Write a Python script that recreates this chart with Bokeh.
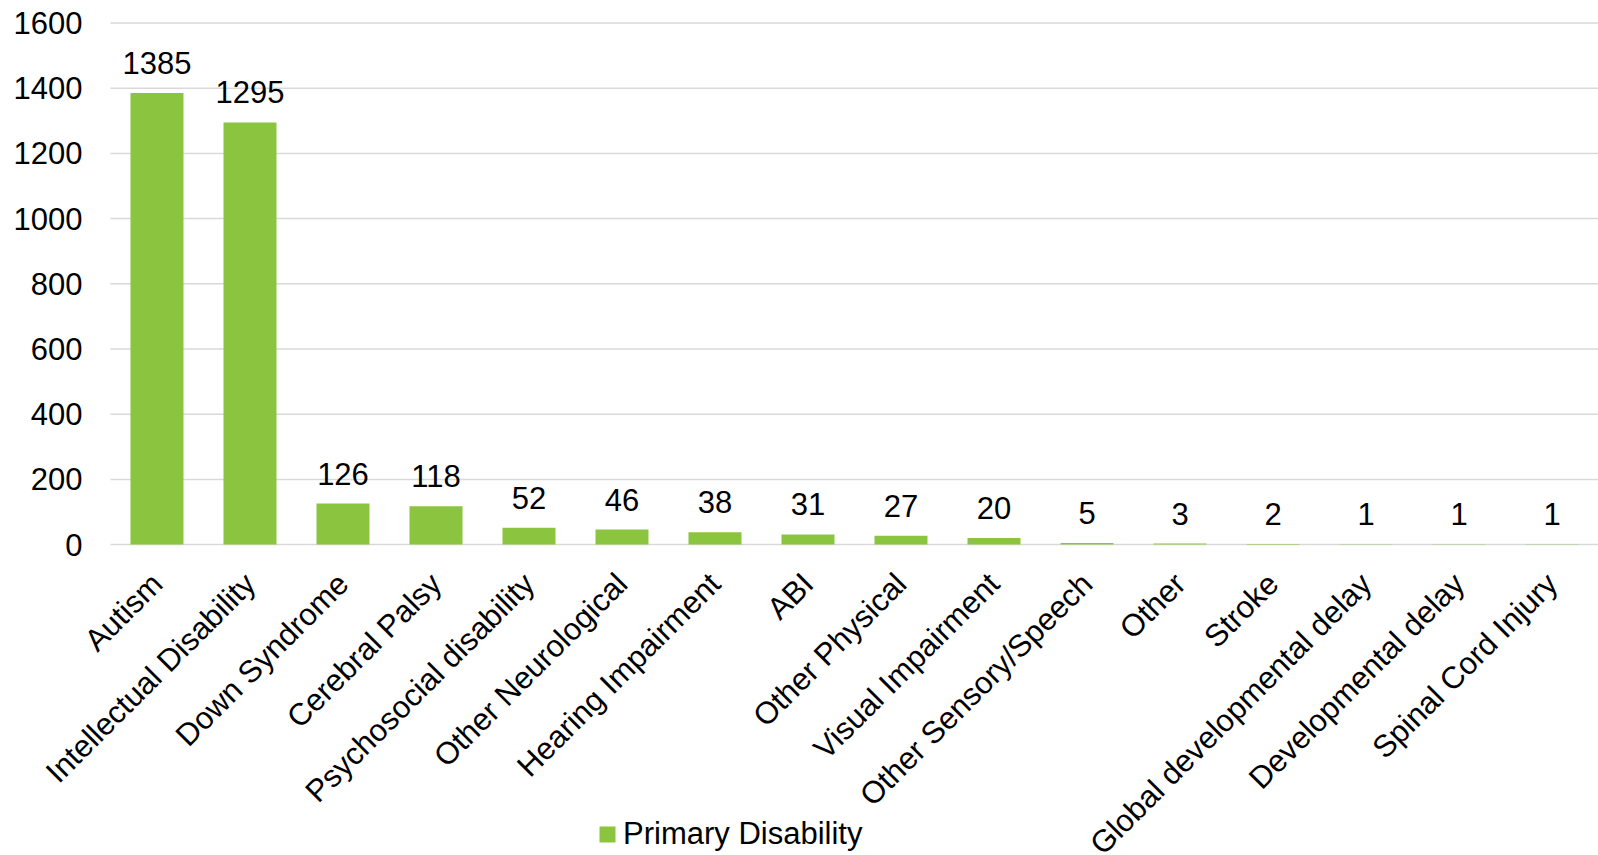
from math import pi
from bokeh.plotting import figure
from bokeh.models import ColumnDataSource, Range1d, LabelSet, Legend, LegendItem
from bokeh.core.properties import value
from bokeh.embed import file_html
from bokeh.resources import INLINE

categories = ["Autism", "Intellectual Disability", "Down Syndrome", "Cerebral Palsy",
              "Psychosocial disability", "Other Neurological", "Hearing Impairment", "ABI",
              "Other Physical", "Visual Impairment", "Other Sensory/Speech", "Other",
              "Stroke", "Global developmental delay", "Developmental delay", "Spinal Cord Injury"]
values = [1385, 1295, 126, 118, 52, 46, 38, 31, 27, 20, 5, 3, 2, 1, 1, 1]
y_ticks = [0, 200, 400, 600, 800, 1000, 1200, 1400, 1600]
series_name = "Primary Disability"

FONT = "Liberation Sans"
FS = "31px"
GREEN = "#8BC540"
GRID = "#d9d9d9"

W, H = 1598, 855
LEFT_MARGIN = 110          # space for the value-axis labels, in px
CAT_PX = (W - LEFT_MARGIN) / len(categories)
PX_PER_UNIT = 0.326        # vertical scale
TOP_GRID_PX = 22.5         # distance of the top gridline from the page top

n = len(categories)
x_end = n - 0.5
x_start = x_end - W / CAT_PX
y_end = y_ticks[-1] + TOP_GRID_PX / PX_PER_UNIT
y_start = y_end - H / PX_PER_UNIT

idx = list(range(n))
src = ColumnDataSource(dict(x=idx, cat=categories, val=values,
                            lbl=[str(v) for v in values], base=[0] * n))
grid_src = ColumnDataSource(dict(y=y_ticks, lbl=[str(t) for t in y_ticks],
                                 x0=[-0.5] * len(y_ticks), x1=[x_end] * len(y_ticks),
                                 xl=[x_start] * len(y_ticks)))

p = figure(width=W, height=H, x_range=Range1d(x_start, x_end),
           y_range=Range1d(y_start, y_end), output_backend="svg", toolbar_location=None,
           min_border_left=0, min_border_right=0, min_border_top=0, min_border_bottom=0)
p.outline_line_color = None
p.background_fill_color = "white"
p.border_fill_color = "white"
p.xaxis.visible = False
p.yaxis.visible = False
p.grid.visible = False

# horizontal gridlines across the category area
p.segment(x0="x0", x1="x1", y0="y", y1="y", source=grid_src,
          line_color=GRID, line_width=1.5)

# value-axis tick labels
p.text(x="xl", y="y", text="lbl", source=grid_src, x_offset=LEFT_MARGIN - 28,
       text_align="right", text_baseline="middle", text_font=value(FONT),
       text_font_size=FS, text_color="#000000")

r = p.vbar(x="x", top="val", bottom="base", width=0.57, source=src,
           fill_color=GREEN, line_color=None)

labels = LabelSet(x="x", y="val", text="lbl", source=src, text_align="center",
                  text_baseline="alphabetic", y_offset=19, text_font=value(FONT),
                  text_font_size=FS, text_color="#000000")
p.add_layout(labels)

# category labels, rotated 45 degrees, hanging below the zero line
p.text(x="x", y="base", text="cat", source=src, angle=pi / 4, text_align="right",
       text_baseline="middle", y_offset=34, text_font=value(FONT),
       text_font_size=FS, text_color="#000000")

legend = Legend(items=[LegendItem(label=series_name, renderers=[r])],
                location=(597, 3), orientation="horizontal",
                glyph_width=20, glyph_height=20, label_standoff=6,
                label_text_font=FONT, label_text_font_size=FS,
                label_text_color="#000000", padding=0, margin=0,
                border_line_color=None, background_fill_alpha=0)
p.add_layout(legend)

open("out.html", "w").write(file_html(p, INLINE))
